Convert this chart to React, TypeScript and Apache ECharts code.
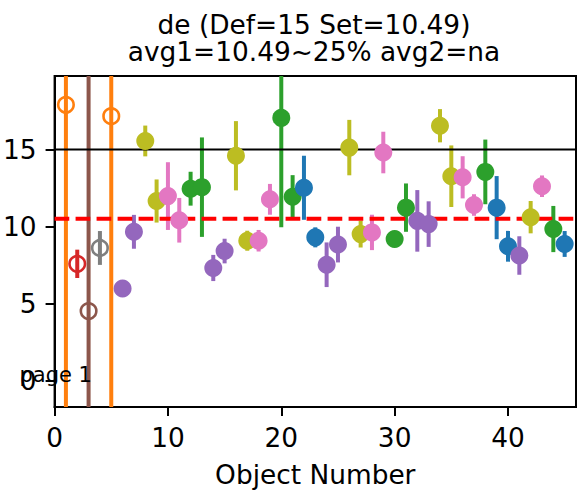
import React, { useEffect, useRef } from 'react';
import * as echarts from 'echarts';

// ---- data ----
const objectNumbers = [
  1, 2, 3, 4, 5, 6, 7, 8, 9, 10,
  11, 12, 13, 14, 15, 16, 17, 18, 19, 20,
  21, 22, 23, 24, 25, 26, 27, 28, 29, 30,
  31, 32, 33, 34, 35, 36, 37, 38, 39, 40,
  41, 42, 43, 44, 45,
];
const values = [
  17.9, 7.57, 4.5, 8.6, 17.16, 5.97, 9.65, 15.55, 11.65, 11.97,
  10.4, 12.45, 12.55, 7.3, 8.4, 14.59, 9.07, 9.07, 11.76, 17.05,
  11.93, 12.51, 9.29, 7.51, 8.82, 15.12, 9.5, 9.61, 14.8, 9.18,
  11.22, 10.36, 10.15, 16.54, 13.26, 13.19, 11.39, 13.54, 11.22, 8.71,
  8.11, 10.6, 12.61, 9.83, 8.86,
];
const errors = [
  60, 0.92, 60, 1.1, 60, 0.3, 1.1, 1.0, 1.4, 2.2,
  1.45, 1.1, 3.23, 0.85, 0.8, 2.25, 0.65, 0.7, 1.0, 7.1,
  1.4, 2.08, 0.65, 1.45, 1.16, 1.8, 0.87, 1.15, 1.35, 0.3,
  1.57, 2.0, 1.48, 1.08, 2.0, 1.37, 0.7, 2.1, 2.05, 1.0,
  1.25, 1.05, 0.7, 1.5, 0.84,
];
const groups = [
  'orange', 'red', 'brown', 'gray', 'orange', 'purple', 'purple', 'olive', 'olive', 'pink',
  'pink', 'green', 'green', 'purple', 'purple', 'olive', 'olive', 'pink', 'pink', 'green',
  'green', 'blue', 'blue', 'purple', 'purple', 'olive', 'olive', 'pink', 'pink', 'green',
  'green', 'purple', 'purple', 'olive', 'olive', 'pink', 'pink', 'green', 'blue', 'blue',
  'purple', 'olive', 'pink', 'green', 'blue',
];
const hollowObjects = [1, 2, 3, 4, 5];
const DEF_VALUE = 15;
const SET_VALUE = 10.49;
const titleLines = ['de (Def=15 Set=10.49)', 'avg1=10.49~25% avg2=na'];
const xTicks = [0, 10, 20, 30, 40];
const yTicks = [0, 5, 10, 15];
const xLabel = 'Object Number';
const pageText = 'page 1';

// ---- styles ----
const palette: Record<string, string> = {
  blue: '#1f77b4', orange: '#ff7f0e', green: '#2ca02c', red: '#d62728',
  purple: '#9467bd', brown: '#8c564b', pink: '#e377c2', gray: '#7f7f7f', olive: '#bcbd22',
};
const FONT = 'DejaVu Sans';
const FS = 26.4;

export default function App() {
  const ref = useRef<HTMLDivElement>(null);
  useEffect(() => {
    if (!ref.current) return;
    const chart = echarts.init(ref.current, undefined, { renderer: 'svg' });

    const errData = objectNumbers.map((x, i) => [x, values[i] - errors[i], values[i] + errors[i], i]);
    const refData = [[0, DEF_VALUE, 0], [0, SET_VALUE, 1]];
    const scatterData = objectNumbers.map((x, i) => {
      const c = palette[groups[i]];
      const hollow = hollowObjects.includes(x);
      return {
        value: [x, values[i]],
        symbolSize: hollow ? 15.5 : 18,
        itemStyle: hollow
          ? { color: 'rgba(255,255,255,0)', borderColor: c, borderWidth: 2.6, opacity: 1 }
          : { color: c, borderWidth: 0, opacity: 1 },
      };
    });

    const axisCommon = {
      type: 'value' as const,
      splitLine: { show: false },
      axisLine: { show: true, onZero: false, lineStyle: { color: '#000', width: 2 } },
    };

    chart.setOption({
      animation: false,
      backgroundColor: '#fff',
      grid: {
        left: 52, top: 76, width: 524, height: 333.5,
        show: true, borderColor: '#000', borderWidth: 2, backgroundColor: 'transparent',
      },
      xAxis: {
        ...axisCommon,
        min: 0, max: 46,
        axisTick: { show: true, length: 9, lineStyle: { color: '#000', width: 2 }, customValues: xTicks },
        axisLabel: { customValues: xTicks, fontSize: FS, fontFamily: FONT, color: '#000', margin: 17 },
        name: xLabel, nameLocation: 'middle', nameGap: 54,
        nameTextStyle: { fontSize: FS, fontFamily: FONT, color: '#000' },
      },
      yAxis: {
        ...axisCommon,
        min: -1.73, max: 19.77,
        axisTick: { show: true, length: 9, lineStyle: { color: '#000', width: 2 }, customValues: yTicks },
        axisLabel: { customValues: yTicks, fontSize: FS, fontFamily: FONT, color: '#000', margin: 18 },
      },
      graphic: [
        { type: 'text', x: 314, y: 24.2, z: 10, style: { text: titleLines[0], font: `${FS}px "${FONT}"`, lineHeight: 24, fill: '#000', align: 'center', verticalAlign: 'middle' } },
        { type: 'text', x: 314, y: 51.6, z: 10, style: { text: titleLines[1], font: `${FS}px "${FONT}"`, lineHeight: 24, fill: '#000', align: 'center', verticalAlign: 'middle' } },
        { type: 'text', x: 19.5, y: 375, z: 10, style: { text: pageText, font: `21px "${FONT}"`, fill: '#000', align: 'left', verticalAlign: 'middle' } },
      ],
      series: [
        {
          type: 'custom', z: 2, silent: true,
          data: errData,
          encode: { x: 0, y: [1, 2] },
          renderItem: (params: any, api: any) => {
            const i = api.value(3);
            const p1 = api.coord([api.value(0), api.value(1)]);
            const p2 = api.coord([api.value(0), api.value(2)]);
            const cs = params.coordSys;
            const top = Math.max(cs.y, Math.min(p1[1], p2[1]));
            const bottom = Math.min(cs.y + cs.height, Math.max(p1[1], p2[1]));
            return {
              type: 'line',
              shape: { x1: p1[0], y1: top, x2: p1[0], y2: bottom },
              style: { stroke: palette[groups[i]], lineWidth: 4, lineCap: 'butt' },
            };
          },
        },
        {
          type: 'custom', z: 3, silent: true,
          data: refData,
          encode: { x: 0, y: 1 },
          renderItem: (params: any, api: any) => {
            const cs = params.coordSys;
            const y = api.coord([0, api.value(1)])[1];
            const dashed = api.value(2) === 1;
            return {
              type: 'line',
              shape: { x1: cs.x, y1: y, x2: cs.x + cs.width, y2: y },
              style: dashed
                ? { stroke: '#ff0000', lineWidth: 4, lineDash: [14.7, 6.3], lineCap: 'butt' }
                : { stroke: '#000', lineWidth: 2 },
            };
          },
        },
        {
          type: 'scatter', z: 4, symbol: 'circle',
          itemStyle: { opacity: 1 },
          data: scatterData,
        },
      ],
    });
    return () => chart.dispose();
  }, []);
  return <div ref={ref} style={{ position: 'absolute', left: 0, top: 0, width: 577, height: 492 }} />;
}
